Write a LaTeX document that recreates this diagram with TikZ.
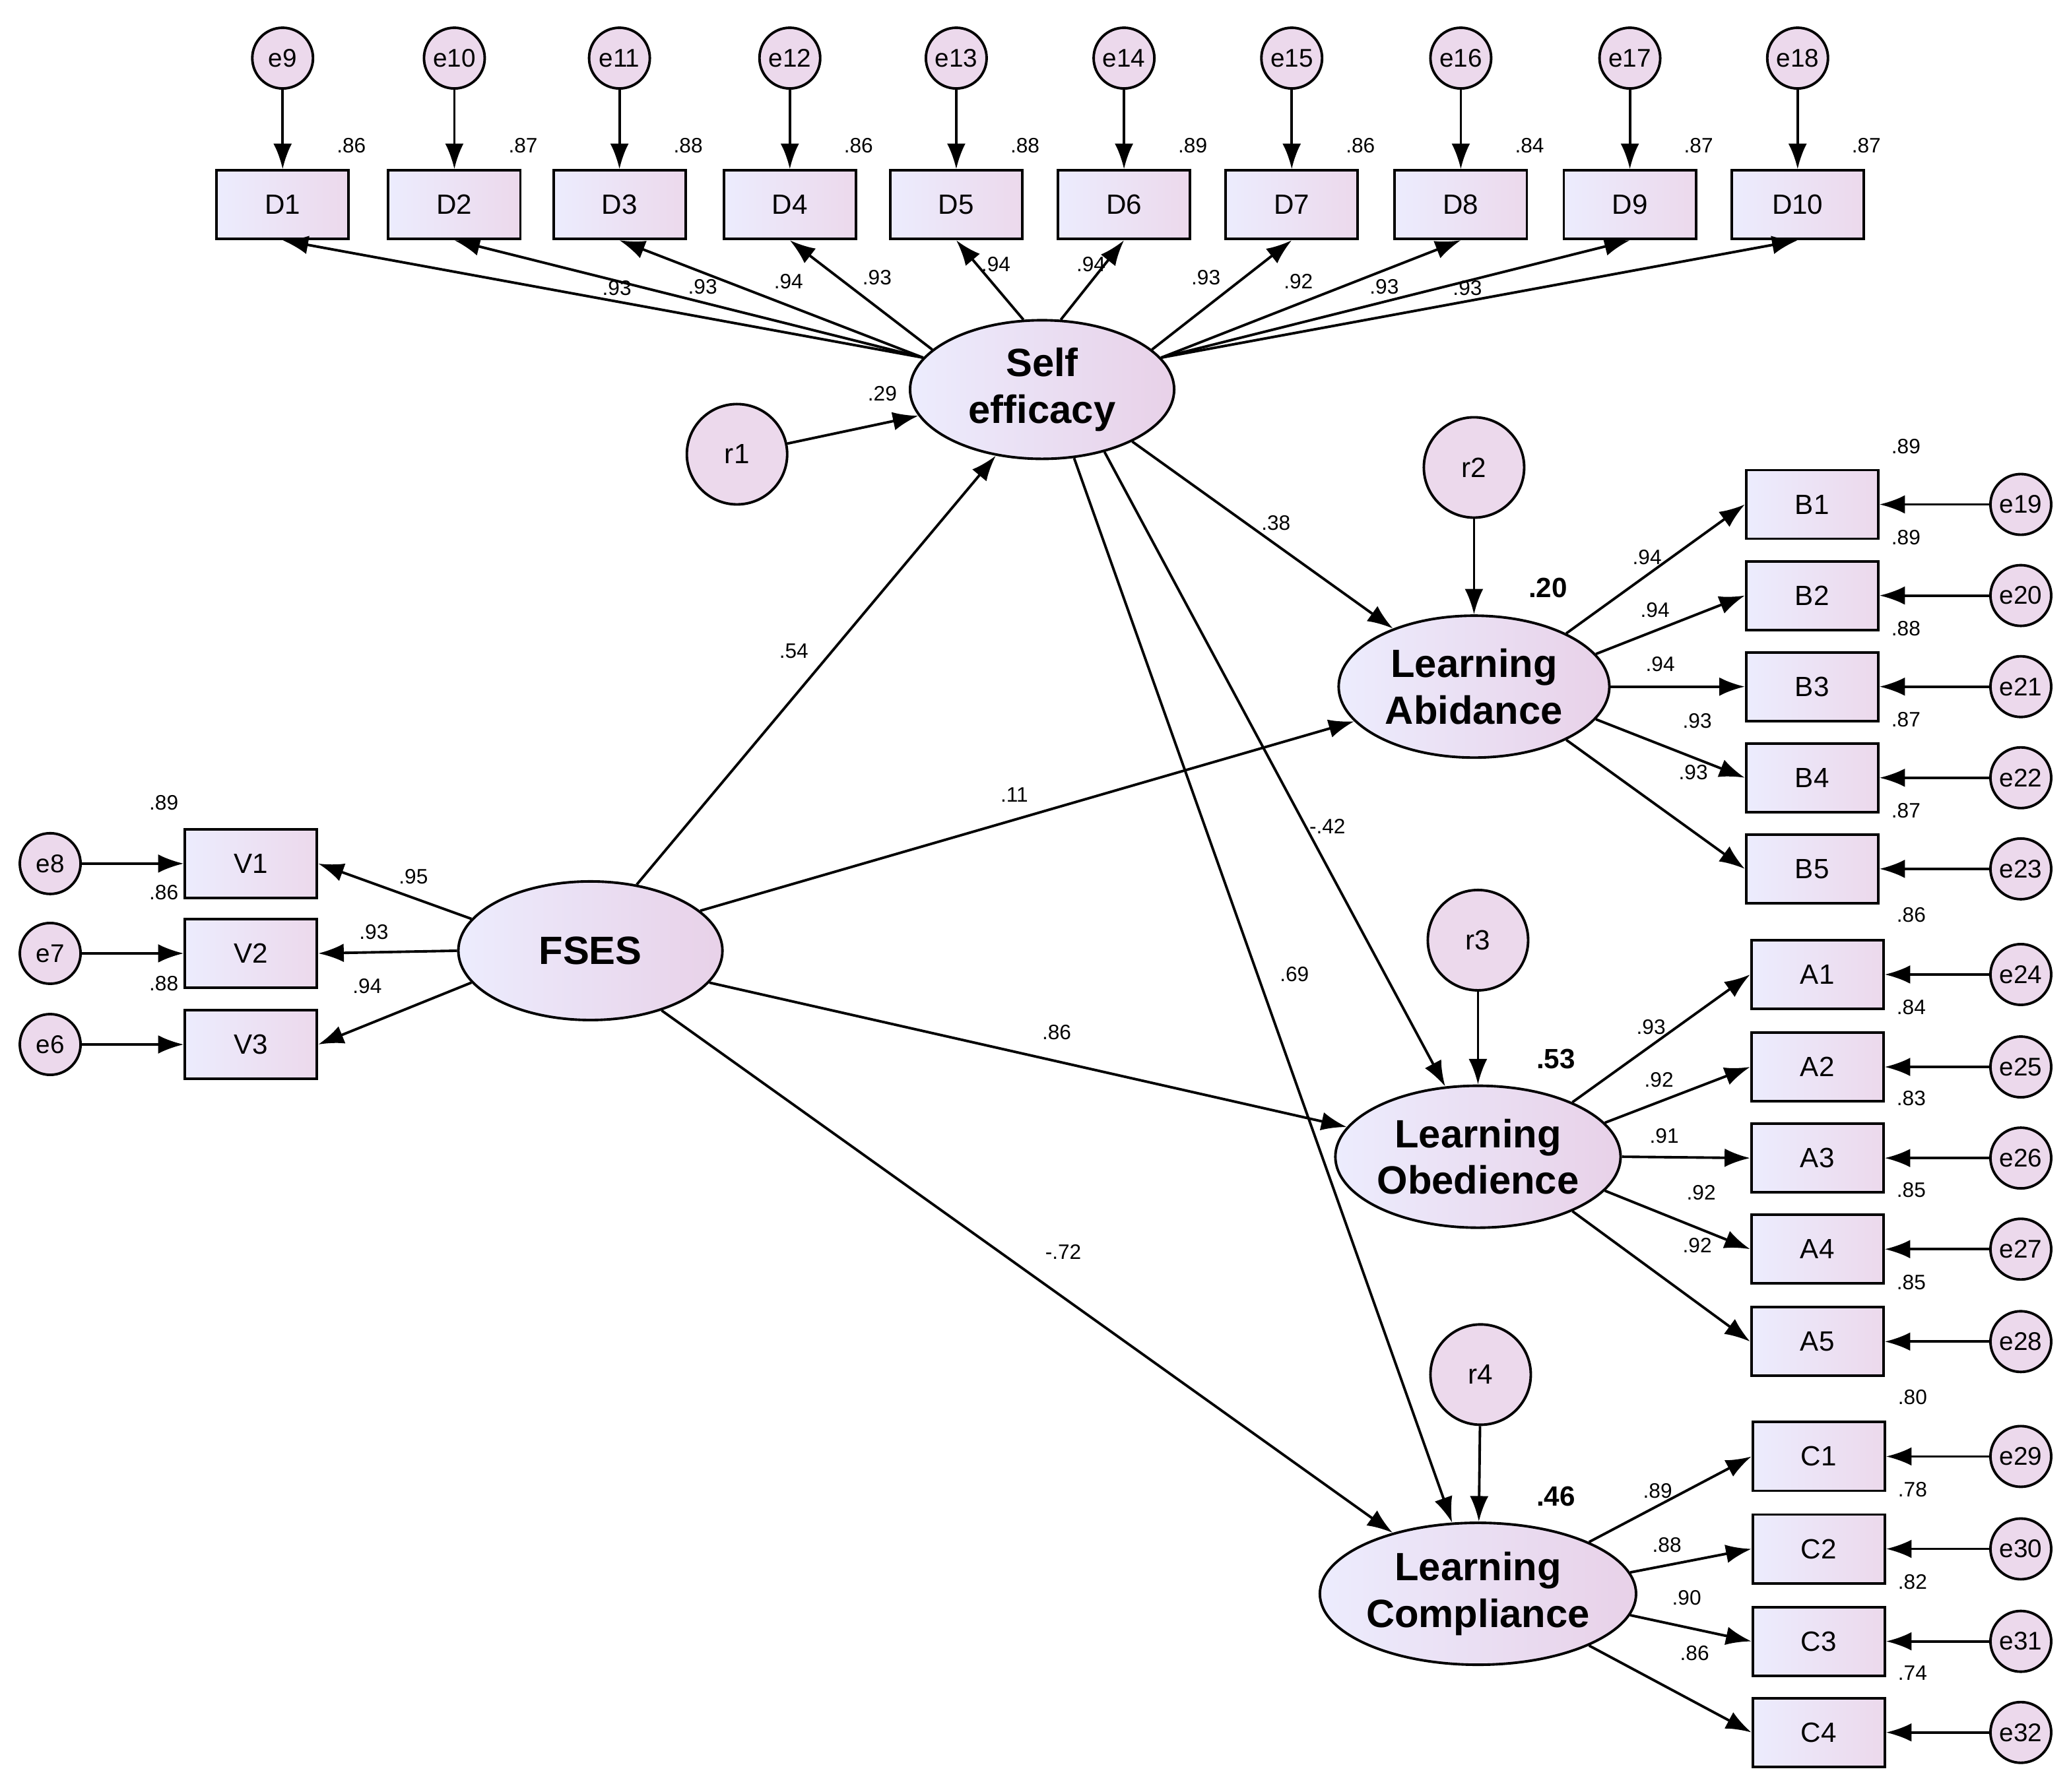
\documentclass[tikz,border=0pt]{standalone}
\usepackage{fontspec}
\setmainfont{Liberation Sans}
\usetikzlibrary{arrows.meta,shapes.geometric}
\begin{document}
\begin{tikzpicture}[x=0.02cm,y=-0.02cm,
  every path/.style={line width=1.1pt},
  arr/.style={-{Latex[length=11pt,width=8pt]}, line width=1.1pt},
  box/.style={draw, line width=1.1pt, minimum width=2cm, minimum height=1.04cm, left color=gray!15!blue!8, right color=violet!15, font=\fontsize{12}{14}\selectfont},
  err/.style={draw, circle, line width=1.1pt, minimum size=0.92cm, inner sep=0pt, fill=violet!15, font=\fontsize{11}{13}\selectfont},
  res/.style={draw, circle, line width=1.1pt, minimum size=1.52cm, inner sep=0pt, fill=violet!15, font=\fontsize{12}{14}\selectfont},
  lat/.style={draw, ellipse, line width=1.1pt, minimum width=4cm, minimum height=2.1cm, inner sep=0pt, left color=gray!15!blue!8, right color=violet!18, font=\fontsize{17}{20}\selectfont\bfseries, align=center},
  num/.style={font=\fontsize{9}{11}\selectfont, inner sep=1pt},
  big/.style={font=\fontsize{12}{14}\selectfont\bfseries, inner sep=1pt}]
\useasboundingbox (0,0) rectangle (1568,1357);

% latents
\node[lat] (se) at (789,295) {Self\\efficacy};
\node[lat] (fses) at (447,720) {FSES};
\node[lat, minimum width=4.1cm, minimum height=2.15cm] (la) at (1116,520) {Learning\\Abidance};
\node[lat, minimum width=4.1cm, minimum height=2.15cm] (lo) at (1119,876) {Learning\\Obedience};
\node[lat, minimum width=4.1cm, minimum height=2.15cm] (lc) at (1119,1207) {Learning\\Compliance};

% residuals
\node[res] (r1) at (558,344) {r1};
\node[res] (r2) at (1116,354) {r2};
\node[res] (r3) at (1119,712) {r3};
\node[res] (r4) at (1121,1041) {r4};
\draw[arr] (r1) -- (se);
\draw[arr] (r2) -- (la);
\draw[arr] (r3) -- (lo);
\draw[arr] (r4) -- (lc);
\node[num] at (668,298) {.29};
\node[big] at (1172,445) {.20};
\node[big] at (1178,802) {.53};
\node[big] at (1178,1133) {.46};

% D indicators
\foreach \i/\x/\r/\l/\lx/\ly/\a in {1/214/.86/.93/467/218/165, 2/344/.87/.93/532/217/165, 3/469/.88/.94/597/213/165, 4/598/.86/.93/664/210/160, 5/724/.88/.94/754/200/105, 6/851/.89/.94/826/200/75, 7/978/.86/.93/913/210/20, 8/1106/.84/.92/983/213/15, 9/1234/.87/.93/1048/217/15, 10/1361/.87/.93/1111/218/15}{
  \pgfmathtruncatemacro{\e}{\i+8}
  \node[err] (e\e) at (\x,44) {e\e};
  \node[box] (D\i) at (\x,155) {D\i};
  \draw[arr] (e\e) -- (D\i);
  \draw[arr] (se.\a) -- (D\i.south);
  \node[num] at (\x+52,110) {\r};
  \node[num] at (\lx,\ly) {\l};
}

% V indicators
\foreach \i/\y/\e/\r/\l/\lx/\ly/\a in {1/654/8/.89/.95/313/664/165, 2/722/7/.86/.93/283/706/180, 3/791/6/.88/.94/278/747/195}{
  \node[err] (e\e) at (38,\y) {e\e};
  \node[box] (V\i) at (190,\y) {V\i};
  \draw[arr] (e\e) -- (V\i);
  \draw[arr] (fses.\a) -- (V\i.east);
  \node[num] at (124,\y-46) {\r};
  \node[num] at (\lx,\ly) {\l};
}

% B indicators
\foreach \i/\y/\e/\r/\l/\lx/\ly/\a in {1/382/19/.89/.94/1247/422/30, 2/451/20/.89/.94/1253/462/15, 3/520/21/.88/.94/1257/503/0, 4/589/22/.87/.93/1285/546/-15, 5/658/23/.87/.93/1282/585/-30}{
  \node[err] (e\e) at (1530,\y) {e\e};
  \node[box] (B\i) at (1372,\y) {B\i};
  \draw[arr] (e\e) -- (B\i);
  \draw[arr] (la.\a) -- (B\i.west);
  \node[num] at (1443,\y-44) {\r};
  \node[num] at (\lx,\ly) {\l};
}

% A indicators
\foreach \i/\y/\e/\r/\l/\lx/\ly/\a in {1/738/24/.86/.93/1250/778/30, 2/808/25/.84/.92/1256/818/15, 3/877/26/.83/.91/1260/860/0, 4/946/27/.85/.92/1288/903/-15, 5/1016/28/.85/.92/1285/943/-30}{
  \node[err] (e\e) at (1530,\y) {e\e};
  \node[box] (A\i) at (1376,\y) {A\i};
  \draw[arr] (e\e) -- (A\i);
  \draw[arr] (lo.\a) -- (A\i.west);
  \node[num] at (1447,\y-45) {\r};
  \node[num] at (\lx,\ly) {\l};
}

% C indicators
\foreach \i/\y/\e/\r/\l/\lx/\ly/\a in {1/1103/29/.80/.89/1255/1129/25, 2/1173/30/.78/.88/1262/1170/8, 3/1243/31/.82/.90/1277/1210/-8, 4/1312/32/.74/.86/1283/1252/-25}{
  \node[err] (e\e) at (1530,\y) {e\e};
  \node[box] (C\i) at (1377,\y) {C\i};
  \draw[arr] (e\e) -- (C\i);
  \draw[arr] (lc.\a) -- (C\i.west);
  \node[num] at (1448,\y-45) {\r};
  \node[num] at (\lx,\ly) {\l};
}

% structural paths
\draw[arr] (fses.55) -- (se.-125);
\draw[arr] (fses.20) -- (la);
\draw[arr] (fses.-15) -- (lo);
\draw[arr] (fses.-40) -- (lc);
\draw[arr] (se.-30) -- (la);
\draw[arr] (se.-45) -- (lo.115);
\draw[arr] (se.-65) -- (lc.110);
\node[num] at (601,493) {.54};
\node[num] at (768,602) {.11};
\node[num] at (800,782) {.86};
\node[num] at (805,948) {-.72};
\node[num] at (966,396) {.38};
\node[num] at (1005,626) {-.42};
\node[num] at (980,738) {.69};
\end{tikzpicture}
\end{document}
